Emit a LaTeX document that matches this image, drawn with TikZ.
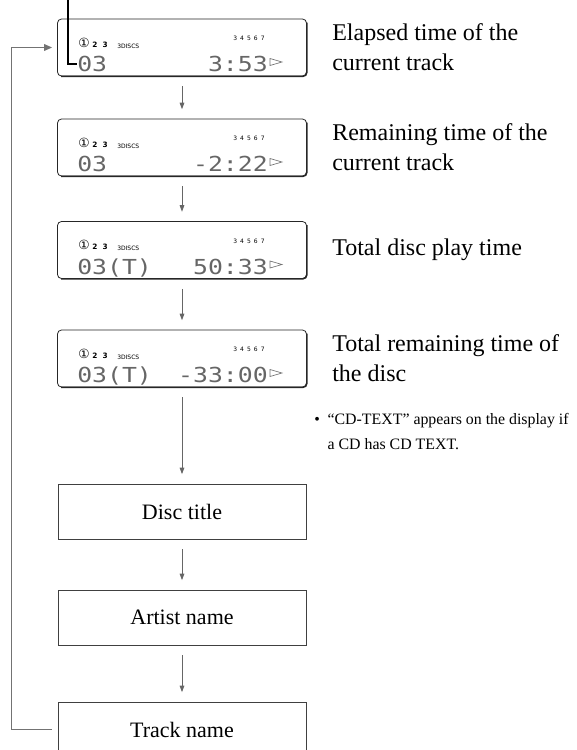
\documentclass[tikz,border=0pt]{standalone}
\usepackage{fontspec}
\setmainfont{Liberation Serif}
\newfontfamily\lcdfont{DejaVu Sans Mono}
\newfontfamily\symfont{DejaVu Sans}
\usetikzlibrary{arrows.meta, calc, positioning}

\begin{document}
\begin{tikzpicture}[
		x=0.75pt, y=-0.75pt,
		dispbox/.style={draw=black!85, line width=0.6pt, rounded corners=3pt, minimum width=186.75pt, minimum height=42.75pt, inner sep=0pt},
		namebox/.style={draw=black!75, line width=0.7pt, minimum width=186pt, minimum height=41.25pt, inner sep=0pt, font=\fontsize{16.5}{20}\selectfont},
		lcdtxt/.style={inner sep=0pt, text=black!60, font=\lcdfont\fontsize{15.5}{15.5}\selectfont},
		tinytxt/.style={anchor=base west, inner sep=0pt, font=\symfont\fontsize{4.5}{4.5}\selectfont},
		lbl/.style={anchor=west, align=left, inner sep=0pt, font=\fontsize{18}{22.5}\selectfont},
		flow/.style={draw=black!60, line width=0.7pt, -{Triangle[width=3.5pt,length=5pt]}, shorten <=7.5pt, shorten >=7pt},
		backline/.style={draw=black!55, line width=1pt, -{Triangle[width=5pt,length=6pt]}}
		]
		\useasboundingbox (0,0) rectangle (577,750);
		
		% ==========================================
		% 1. THE FOUR DISPLAY READOUTS
		% ==========================================
		% Data format: index / centre y / left readout / right readout / label
		\foreach \i/\yc/\lft/\rgt/\txt in {
			1/47.5/03/3:53/{Elapsed time of the\\current track},
			2/147.5/03/-2:22/{Remaining time of the\\current track},
			3/250/03(T)/50:33/{Total disc play time},
			4/358.5/03(T)/-33:00/{Total remaining time of\\the disc}%
		} {
			\node[dispbox] (d-\i) at (182, \yc) {};
			% darker right and bottom edge
			\draw[black!85, line width=1.1pt, rounded corners=3pt] ([yshift=-3pt]d-\i.north east) |- ([xshift=3pt]d-\i.south west);
			% disc indicators
			\node[anchor=base west, inner sep=0pt, font=\symfont\fontsize{9.5}{9.5}\selectfont] (ind-\i) at (78, \yc-0.5) {①};
			\node[anchor=base west, inner sep=0pt, font=\symfont\bfseries\fontsize{5.5}{5.5}\selectfont] at (92, \yc-0.5) {2\hspace{4pt}3};
			\node[tinytxt] at (117, \yc+0.5) {3DISCS};
			\node[tinytxt] at (233, \yc-7) {3\hspace{2.3pt}4\hspace{2.3pt}5\hspace{2.3pt}6\hspace{2.3pt}7};
			% main readout
			\node[lcdtxt, anchor=base west] (l-\i) at (77, \yc+24) {\scalebox{1.2}[1]{\lft}};
			\node[lcdtxt, anchor=base east] (r-\i) at (268, \yc+24) {\scalebox{1.2}[1]{\rgt}};
			\draw[black!55, line width=0.5pt] (270, \yc+11) -- (282, \yc+14.5) -- (270, \yc+18) -- cycle;
			% description on the right
			\node[lbl] (lab-\i) at (332, \yc) {\txt};
		}
		
		% ==========================================
		% 2. CD TEXT BOXES
		% ==========================================
		\foreach \i/\yc/\txt in {1/511.5/Disc title, 2/617.5/Artist name, 3/729.5/Track name} {
			\node[namebox] (t-\i) at (182, \yc) {\txt};
		}
		
		% Note about CD TEXT
		\node[anchor=north west, align=left, inner sep=0pt, font=\fontsize{11.9}{19}\selectfont] (note) at (314, 413)
		{\makebox[10pt][l]{•}“CD-TEXT” appears on the display if\\\hspace*{10pt}a CD has CD TEXT.};
		
		% ==========================================
		% 3. ARROWS
		% ==========================================
		\foreach \a/\b in {d-1/d-2, d-2/d-3, d-3/d-4, d-4/t-1, t-1/t-2, t-2/t-3} {
			\draw[flow] (\a.south) -- (\b.north);
		}
		
		% Return from the last box to the first readout
		\draw[backline] ([xshift=-4.5pt]t-3.west) -- ++(-40,0) |- ([xshift=-3.75pt]d-1.west);
		
		% Pointer to the track number
		\coordinate (ptr) at (68, 0);
		\draw[black, line width=0.8pt] (ptr) |- (l-1.west);
		
	\end{tikzpicture}
\end{document}
